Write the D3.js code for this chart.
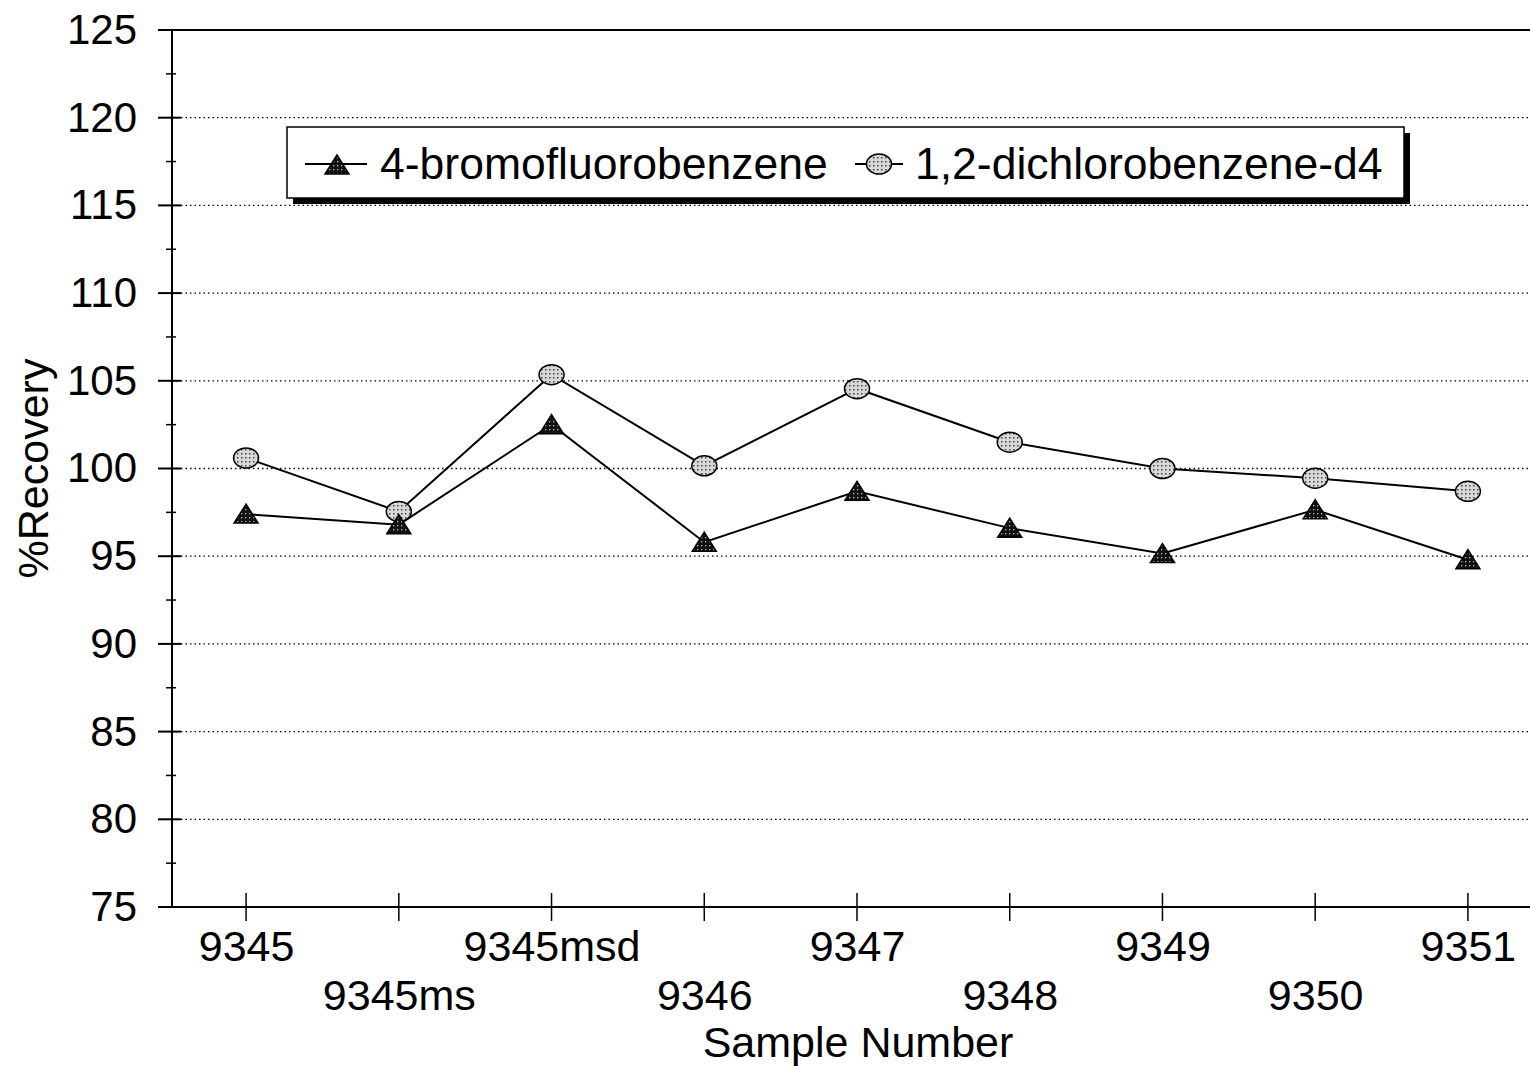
<!DOCTYPE html>
<html>
<head>
<meta charset="utf-8">
<script src="https://cdn.jsdelivr.net/npm/d3@7"></script>
<style>
  body { margin: 0; background: #fff; }
  svg text { font-family: Arial, "Liberation Sans", sans-serif; fill: #000; }
</style>
</head>
<body>
<div id="chart"></div>
<script>
// data
var samples = ["9345", "9345ms", "9345msd", "9346", "9347", "9348", "9349", "9350", "9351"];
var bromo = [97.4, 96.8, 102.5, 95.8, 98.7, 96.6, 95.15, 97.65, 94.8];
var dichloro = [100.6, 97.55, 105.35, 100.15, 104.55, 101.5, 100.0, 99.45, 98.7];
var yTicks = [75, 80, 85, 90, 95, 100, 105, 110, 115, 120, 125];
var seriesNames = ["4-bromofluorobenzene", "1,2-dichlorobenzene-d4"];

var W = 1530, H = 1067;
var plotLeft = 172, plotRight = 1542, plotTop = 30, plotBottom = 907;

var svg = d3.select("#chart").append("svg")
    .attr("width", W)
    .attr("height", H);

// marker fill patterns (the scan shows stippled fills)
var defs = svg.append("defs");
var pDark = defs.append("pattern")
    .attr("id", "dark").attr("patternUnits", "userSpaceOnUse")
    .attr("width", 4).attr("height", 4);
pDark.append("rect").attr("width", 4).attr("height", 4).attr("fill", "#111");
pDark.append("rect").attr("x", 1).attr("y", 1).attr("width", 1.3).attr("height", 1.3).attr("fill", "#bbb");
var pLight = defs.append("pattern")
    .attr("id", "light").attr("patternUnits", "userSpaceOnUse")
    .attr("width", 4).attr("height", 4);
pLight.append("rect").attr("width", 4).attr("height", 4).attr("fill", "#d8d8d8");
pLight.append("rect").attr("x", 1).attr("y", 1).attr("width", 1.5).attr("height", 1.5).attr("fill", "#444");

var x = d3.scalePoint()
    .domain(samples)
    .range([plotLeft, plotRight])
    .padding(0.485);

var y = d3.scaleLinear()
    .domain([75, 125])
    .range([plotBottom, plotTop]);

// dotted gridlines
svg.append("g")
    .selectAll("line")
    .data(yTicks.filter(function(d) { return d > 75 && d < 125; }))
    .join("line")
    .attr("x1", plotLeft).attr("x2", W)
    .attr("y1", function(d) { return y(d); })
    .attr("y2", function(d) { return y(d); })
    .attr("stroke", "#000")
    .attr("stroke-width", 1.3)
    .attr("stroke-dasharray", "1.5,3");

// top border
svg.append("line")
    .attr("x1", 158).attr("x2", W)
    .attr("y1", y(125)).attr("y2", y(125))
    .attr("stroke", "#000").attr("stroke-width", 2);

// y axis
var yAxis = svg.append("g")
    .attr("transform", "translate(" + plotLeft + ",0)")
    .call(d3.axisLeft(y).tickValues(yTicks).tickSize(0).tickPadding(35));
yAxis.select(".domain").remove();
yAxis.selectAll("text").style("font-size", "42px");
yAxis.append("line")
    .attr("y1", y(125)).attr("y2", y(75))
    .attr("stroke", "#000").attr("stroke-width", 2);
yAxis.selectAll(".major")
    .data(yTicks)
    .join("line")
    .attr("x1", -14).attr("x2", 9)
    .attr("y1", function(d) { return y(d); })
    .attr("y2", function(d) { return y(d); })
    .attr("stroke", "#000").attr("stroke-width", 2);
yAxis.selectAll(".minor")
    .data(yTicks.slice(1).map(function(d) { return d - 2.5; }))
    .join("line")
    .attr("x1", -6).attr("x2", 4)
    .attr("y1", function(d) { return y(d); })
    .attr("y2", function(d) { return y(d); })
    .attr("stroke", "#000").attr("stroke-width", 1.5);

// x axis
var xAxis = svg.append("g")
    .attr("transform", "translate(0," + plotBottom + ")")
    .call(d3.axisBottom(x).tickSize(0));
xAxis.select(".domain").remove();
xAxis.selectAll("text")
    .style("font-size", "43px")
    .attr("dy", null)
    .attr("y", function(d, i) { return i % 2 === 0 ? 54 : 103; });
xAxis.append("line")
    .attr("x1", 158).attr("x2", W)
    .attr("stroke", "#000").attr("stroke-width", 2);
xAxis.selectAll(".tk")
    .data(samples)
    .join("line")
    .attr("x1", function(d) { return x(d); })
    .attr("x2", function(d) { return x(d); })
    .attr("y1", -14).attr("y2", 14)
    .attr("stroke", "#000").attr("stroke-width", 1.5);

// axis titles
svg.append("text")
    .attr("x", 858).attr("y", 1057)
    .attr("text-anchor", "middle")
    .style("font-size", "43px")
    .text("Sample Number");
svg.append("text")
    .attr("transform", "translate(48," + y(100) + ") rotate(-90)")
    .attr("text-anchor", "middle")
    .style("font-size", "43px")
    .text("%Recovery");

// lines
var line = d3.line()
    .x(function(d, i) { return x(samples[i]); })
    .y(function(d) { return y(d); });

svg.append("path").datum(bromo)
    .attr("d", line).attr("fill", "none")
    .attr("stroke", "#000").attr("stroke-width", 2);
svg.append("path").datum(dichloro)
    .attr("d", line).attr("fill", "none")
    .attr("stroke", "#000").attr("stroke-width", 2);

function triangle(g, cx, cy) {
    g.append("path")
        .attr("d", "M" + cx + "," + (cy - 10) + "L" + (cx + 12) + "," + (cy + 9) + "L" + (cx - 12) + "," + (cy + 9) + "Z")
        .attr("fill", "url(#dark)")
        .attr("stroke", "#000").attr("stroke-width", 1.5);
}
function ellipse(g, cx, cy) {
    g.append("ellipse")
        .attr("cx", cx).attr("cy", cy)
        .attr("rx", 12.5).attr("ry", 10)
        .attr("fill", "url(#light)")
        .attr("stroke", "#000").attr("stroke-width", 1.5);
}

var markers = svg.append("g");
dichloro.forEach(function(d, i) { ellipse(markers, x(samples[i]), y(d)); });
bromo.forEach(function(d, i) { triangle(markers, x(samples[i]), y(d)); });

// legend with drop shadow
var legend = svg.append("g");
legend.append("rect")
    .attr("x", 293).attr("y", 133)
    .attr("width", 1117).attr("height", 71)
    .attr("fill", "#000");
legend.append("rect")
    .attr("x", 287).attr("y", 127)
    .attr("width", 1117).attr("height", 71)
    .attr("fill", "#fff")
    .attr("stroke", "#000").attr("stroke-width", 1.5);

legend.append("line")
    .attr("x1", 305).attr("x2", 367).attr("y1", 164).attr("y2", 164)
    .attr("stroke", "#000").attr("stroke-width", 2);
triangle(legend, 337, 165);
legend.append("text")
    .attr("x", 380).attr("y", 179)
    .style("font-size", "44.5px")
    .text(seriesNames[0]);

legend.append("line")
    .attr("x1", 855).attr("x2", 903).attr("y1", 164).attr("y2", 164)
    .attr("stroke", "#000").attr("stroke-width", 2);
ellipse(legend, 879, 164);
legend.append("text")
    .attr("x", 915).attr("y", 179)
    .style("font-size", "44.5px")
    .text(seriesNames[1]);
</script>
</body>
</html>
